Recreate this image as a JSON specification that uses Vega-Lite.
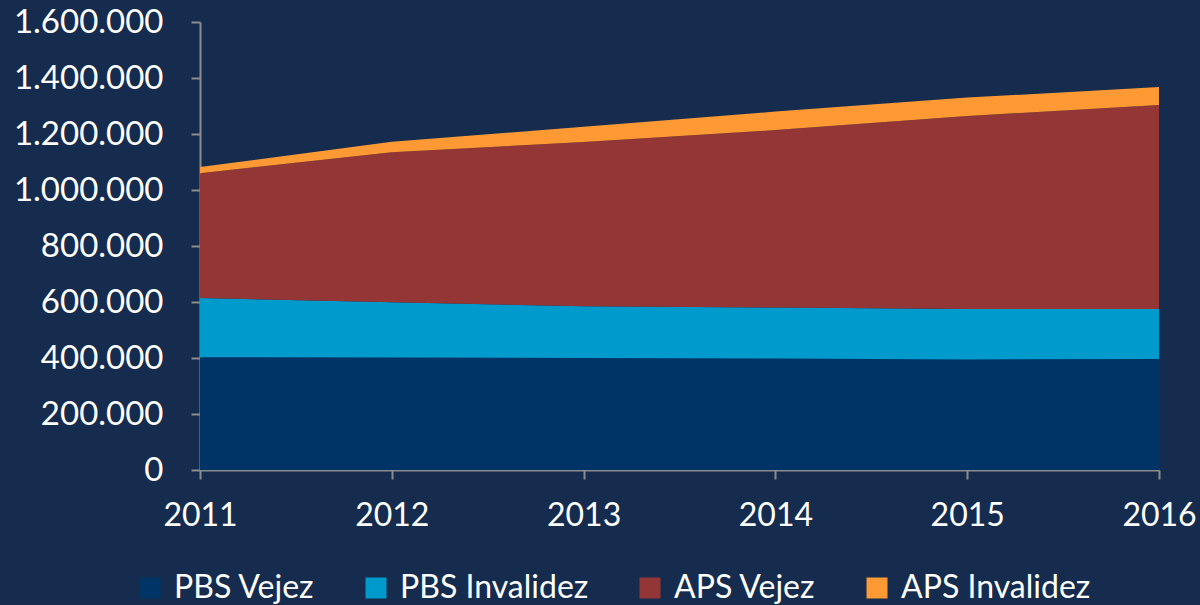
{
  "$schema": "https://vega.github.io/schema/vega-lite/v6.json",
  "autosize": "none",
  "width": 959,
  "height": 448,
  "padding": {"left": 200, "top": 22, "right": 41, "bottom": 135},
  "background": "#152c4e",
  "config": {
    "view": {"stroke": null},
    "font": "Lato",
    "locale": {"number": {"decimal": ",", "thousands": ".", "grouping": [3], "currency": ["$", ""]}}
  },
  "data": {
    "values": [
      {"anio": 2011, "serie": "PBS Vejez", "valor": 403000},
      {"anio": 2011, "serie": "PBS Invalidez", "valor": 211000},
      {"anio": 2011, "serie": "APS Vejez", "valor": 446000},
      {"anio": 2011, "serie": "APS Invalidez", "valor": 22000},
      {"anio": 2012, "serie": "PBS Vejez", "valor": 402000},
      {"anio": 2012, "serie": "PBS Invalidez", "valor": 197000},
      {"anio": 2012, "serie": "APS Vejez", "valor": 536000},
      {"anio": 2012, "serie": "APS Invalidez", "valor": 37000},
      {"anio": 2013, "serie": "PBS Vejez", "valor": 400000},
      {"anio": 2013, "serie": "PBS Invalidez", "valor": 185000},
      {"anio": 2013, "serie": "APS Vejez", "valor": 586000},
      {"anio": 2013, "serie": "APS Invalidez", "valor": 55000},
      {"anio": 2014, "serie": "PBS Vejez", "valor": 398000},
      {"anio": 2014, "serie": "PBS Invalidez", "valor": 182000},
      {"anio": 2014, "serie": "APS Vejez", "valor": 634000},
      {"anio": 2014, "serie": "APS Invalidez", "valor": 66000},
      {"anio": 2015, "serie": "PBS Vejez", "valor": 395000},
      {"anio": 2015, "serie": "PBS Invalidez", "valor": 180000},
      {"anio": 2015, "serie": "APS Vejez", "valor": 689000},
      {"anio": 2015, "serie": "APS Invalidez", "valor": 66000},
      {"anio": 2016, "serie": "PBS Vejez", "valor": 396000},
      {"anio": 2016, "serie": "PBS Invalidez", "valor": 179000},
      {"anio": 2016, "serie": "APS Vejez", "valor": 729000},
      {"anio": 2016, "serie": "APS Invalidez", "valor": 64000}
    ]
  },
  "mark": {"type": "area", "opacity": 1},
  "encoding": {
    "x": {
      "field": "anio",
      "type": "quantitative",
      "scale": {"domain": [2011, 2016], "nice": false, "zero": false},
      "axis": {
        "title": null,
        "values": [2011, 2012, 2013, 2014, 2015, 2016],
        "format": "d",
        "grid": false,
        "domainColor": "#8c8c8c",
        "domainWidth": 2,
        "tickColor": "#8c8c8c",
        "tickWidth": 2,
        "tickSize": 9,
        "labelColor": "#ffffff",
        "labelFontSize": 32,
        "labelPadding": 21,
        "labelFlush": false,
        "labelOverlap": false
      }
    },
    "y": {
      "field": "valor",
      "type": "quantitative",
      "stack": "zero",
      "scale": {"domain": [0, 1600000], "nice": false},
      "axis": {
        "title": null,
        "values": [0, 200000, 400000, 600000, 800000, 1000000, 1200000, 1400000, 1600000],
        "format": ",d",
        "grid": false,
        "domainColor": "#8c8c8c",
        "domainWidth": 2,
        "tickColor": "#8c8c8c",
        "tickWidth": 2,
        "tickSize": 9,
        "labelColor": "#ffffff",
        "labelFontSize": 33,
        "labelPadding": 28,
        "labelFlush": false,
        "labelOverlap": false
      }
    },
    "color": {
      "field": "serie",
      "type": "nominal",
      "scale": {
        "domain": ["PBS Vejez", "PBS Invalidez", "APS Vejez", "APS Invalidez"],
        "range": ["#003366", "#009acd", "#943636", "#ff9933"]
      },
      "legend": {
        "title": null,
        "orient": "none",
        "direction": "horizontal",
        "legendX": -66,
        "legendY": 550,
        "symbolType": "square",
        "symbolSize": 441,
        "symbolStrokeWidth": 0,
        "symbolOpacity": 1,
        "labelColor": "#ffffff",
        "labelFontSize": 32,
        "labelOffset": 8,
        "columnPadding": 45,
        "labelLimit": 400
      }
    },
    "order": {"field": "serie", "sort": "descending"}
  }
}
